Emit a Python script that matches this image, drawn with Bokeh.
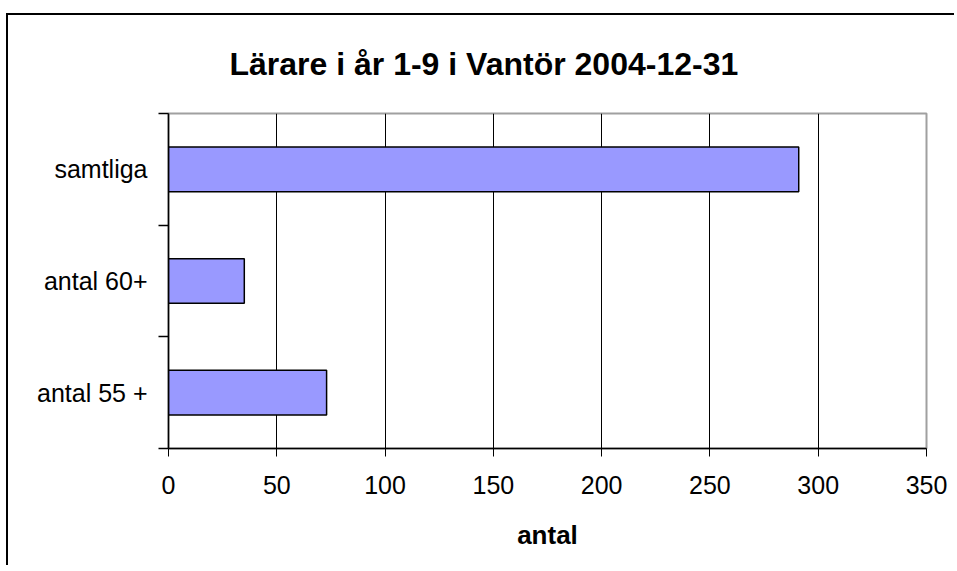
from bokeh.plotting import figure
from bokeh.models import Range1d, FixedTicker, ColumnDataSource
from bokeh.embed import file_html
from bokeh.resources import INLINE

categories = ["antal 55 +", "antal 60+", "samtliga"]
counts = [73, 35, 291]
x_ticks = [0, 50, 100, 150, 200, 250, 300, 350]
title_text = "Lärare i år 1-9 i Vantör 2004-12-31"
x_label = "antal"

FONT = "Liberation Sans"

pos = [i + 0.5 for i in range(len(categories))]
src = ColumnDataSource(dict(y=pos, right=counts, cat=categories))

p = figure(width=948, height=552, output_backend="svg", toolbar_location=None,
           x_range=Range1d(0, 350), y_range=Range1d(0, len(categories)))
p.styles = {"border-top": "2px solid black", "border-left": "2px solid black",
            "margin-top": "13px", "margin-left": "6px"}
p.min_border_left = 160
p.min_border_right = 30
p.min_border_top = 98
p.min_border_bottom = 119
p.background_fill_color = "white"
p.border_fill_color = "white"
p.outline_line_color = "#a0a0a0"
p.outline_line_width = 2

p.title.text = title_text
p.title.text_font = FONT
p.title.text_font_size = "32px"
p.title.text_font_style = "bold"
p.title.text_color = "black"
p.title.align = "left"
p.title.vertical_align = "top"
p.title.offset = 61
p.title.standoff = 60

p.hbar(y="y", right="right", left=0, height=0.4, source=src,
       fill_color="#9999FF", line_color="black", line_width=1.5)

# x axis
xa = p.xaxis[0]
xa.ticker = FixedTicker(ticks=x_ticks)
xa.axis_line_color = "black"
xa.axis_line_width = 1.5
xa.major_tick_line_color = "black"
xa.major_tick_out = 8
xa.major_tick_in = 0
xa.minor_tick_line_color = None
xa.major_label_text_font = FONT
xa.major_label_text_font_size = "25px"
xa.major_label_text_color = "black"
xa.major_label_standoff = 19
xa.axis_label = x_label
xa.axis_label_text_font = FONT
xa.axis_label_text_font_size = "26px"
xa.axis_label_text_font_style = "bold"
xa.axis_label_text_color = "black"
xa.axis_label_standoff = 23

# y axis
ya = p.yaxis[0]
ya.ticker = FixedTicker(ticks=pos, minor_ticks=list(range(len(categories) + 1)))
ya.major_label_overrides = {v: c for v, c in zip(pos, categories)}
ya.axis_line_color = "black"
ya.axis_line_width = 1.5
ya.major_tick_line_color = None
ya.major_tick_out = 0
ya.major_tick_in = 0
ya.minor_tick_line_color = "black"
ya.minor_tick_line_width = 1.5
ya.minor_tick_out = 10
ya.minor_tick_in = 0
ya.major_label_text_font = FONT
ya.major_label_text_font_size = "25px"
ya.major_label_text_color = "black"
ya.major_label_standoff = 11

p.xgrid.ticker = FixedTicker(ticks=x_ticks)
p.xgrid.grid_line_color = "black"
p.xgrid.grid_line_width = 1
p.ygrid.grid_line_color = None

open("out.html", "w").write(file_html(p, INLINE))
